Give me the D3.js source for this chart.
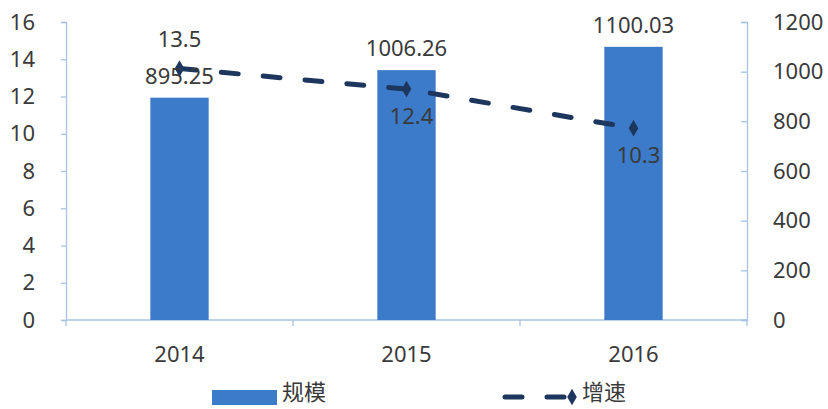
<!DOCTYPE html>
<html><head><meta charset="utf-8">
<script src="https://cdn.jsdelivr.net/npm/d3@7"></script>
<style>body{margin:0;background:#fff}svg{display:block}text{font-family:"Noto Sans","Noto Sans CJK SC",sans-serif;fill:#3a3a3a}</style>
</head><body>
<svg id="c" width="828" height="409"></svg>
<script>
const years = ["2014", "2015", "2016"];
const scale = [895.25, 1006.26, 1100.03];   // 规模 (right axis)
const growth = [13.5, 12.4, 10.3];          // 增速 (left axis)
const leftTicks = [0, 2, 4, 6, 8, 10, 12, 14, 16];
const rightTicks = [0, 200, 400, 600, 800, 1000, 1200];
const seriesNames = ["规模", "增速"];

const svg = d3.select("#c");
const L = 66, R = 747, T = 22, B = 320;
const axisColor = "#a9c3e3", barColor = "#3c7bc9", lineColor = "#1d365e";

const x = d3.scaleBand().domain(years).range([L, R]);
const yL = d3.scaleLinear().domain([0, 16]).range([B, T]);
const yR = d3.scaleLinear().domain([0, 1200]).range([B, T]);

// left axis
const gL = svg.append("g").attr("transform", `translate(${L},0)`)
  .call(d3.axisLeft(yL).tickValues(leftTicks).tickSize(5).tickPadding(26));
gL.selectAll("path,line").attr("stroke", axisColor).attr("stroke-width", 1.3);
gL.selectAll("text").attr("font-size", 22).style("font-family", '"Noto Sans",sans-serif').attr("fill", "#3a3a3a");

// right axis (ticks drawn inward)
const gR = svg.append("g").attr("transform", `translate(${R},0)`)
  .call(d3.axisLeft(yR).tickValues(rightTicks).tickSize(6).tickFormat(d3.format("d")));
gR.selectAll("path,line").attr("stroke", axisColor).attr("stroke-width", 1.3);
gR.selectAll("text").attr("text-anchor", "start").attr("x", 26).attr("font-size", 22)
  .style("font-family", '"Noto Sans",sans-serif').attr("fill", "#3a3a3a");

// bottom axis: ticks at category boundaries
svg.append("line").attr("x1", L).attr("x2", R).attr("y1", B).attr("y2", B)
  .attr("stroke", axisColor).attr("stroke-width", 1.3);
const bounds = years.map(y => x(y)).concat([R]);
svg.selectAll(".bt").data(bounds).join("line")
  .attr("x1", d => d).attr("x2", d => d).attr("y1", B).attr("y2", B + 6)
  .attr("stroke", axisColor).attr("stroke-width", 1.3);
svg.selectAll(".xl").data(years).join("text")
  .attr("x", d => x(d) + x.bandwidth() / 2).attr("y", B + 42)
  .attr("text-anchor", "middle").attr("font-size", 22).text(d => d);

// bars
const bw = x.bandwidth() * 0.257;
svg.selectAll(".bar").data(scale).join("rect")
  .attr("x", (d, i) => x(years[i]) + x.bandwidth() / 2 - bw / 2)
  .attr("width", bw)
  .attr("y", d => yR(d)).attr("height", d => B - yR(d))
  .attr("fill", barColor);

// line
const cx = i => x(years[i]) + x.bandwidth() / 2;
const line = d3.line().x((d, i) => cx(i)).y(d => yL(d));
svg.append("path").datum(growth).attr("d", line)
  .attr("fill", "none").attr("stroke", lineColor).attr("stroke-width", 5)
  .attr("stroke-linecap", "round").attr("stroke-dasharray", "17,25");
const diamond = d3.symbol().type(d3.symbolDiamond).size(80);
svg.selectAll(".mk").data(growth).join("path")
  .attr("d", diamond).attr("transform", (d, i) => `translate(${cx(i)},${yL(d)})`)
  .attr("fill", lineColor);

// bar labels
svg.selectAll(".bl").data(scale).join("text")
  .attr("x", (d, i) => cx(i)).attr("y", d => yR(d) - 20)
  .attr("dominant-baseline", "middle").attr("text-anchor", "middle")
  .attr("font-size", 22).text(d => d3.format(".2f")(d));

// line labels
svg.selectAll(".ll").data(growth).join("text")
  .attr("x", (d, i) => cx(i) + (i === 0 ? 0 : 5))
  .attr("y", (d, i) => yL(d) + (i === 0 ? -27 : 29))
  .attr("dominant-baseline", "middle").attr("text-anchor", "middle")
  .attr("font-size", 22).text(d => d);

// legend
const lg = svg.append("g");
lg.append("rect").attr("x", 212).attr("y", 390).attr("width", 65).attr("height", 15).attr("fill", barColor);
lg.append("text").attr("x", 282).attr("y", 394).attr("dominant-baseline", "middle")
  .attr("font-size", 22).text(seriesNames[0]);
lg.append("line").attr("x1", 505).attr("x2", 572).attr("y1", 397).attr("y2", 397)
  .attr("stroke", lineColor).attr("stroke-width", 5).attr("stroke-linecap", "round")
  .attr("stroke-dasharray", "17,25");
lg.append("path").attr("d", diamond).attr("transform", "translate(572,397)").attr("fill", lineColor);
lg.append("text").attr("x", 582).attr("y", 394).attr("dominant-baseline", "middle")
  .attr("font-size", 22).text(seriesNames[1]);
</script>
</body></html>
